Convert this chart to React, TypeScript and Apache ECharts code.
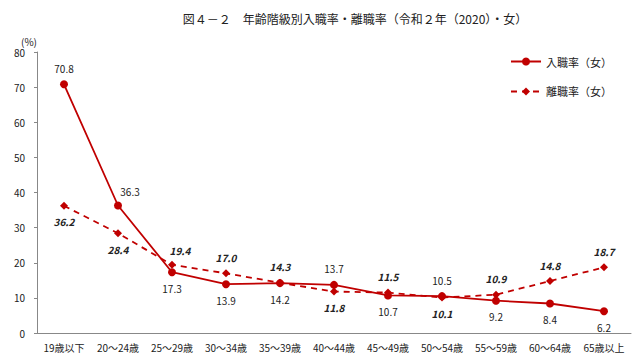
import React, { useEffect, useRef } from "react";
import * as echarts from "echarts";

const categories = ["19歳以下", "20～24歳", "25～29歳", "30～34歳", "35～39歳", "40～44歳", "45～49歳", "50～54歳", "55～59歳", "60～64歳", "65歳以上"];
const entryRate = [70.8, 36.3, 17.3, 13.9, 14.2, 13.7, 10.7, 10.5, 9.2, 8.4, 6.2];
const leaveRate = [36.2, 28.4, 19.4, 17.0, 14.3, 11.8, 11.5, 10.1, 10.9, 14.8, 18.7];
const entryLabelPos = ["top", "top", "bottom", "bottom", "bottom", "top", "bottom", "top", "bottom", "bottom", "bottom"];
const leaveLabelPos = ["bottom", "bottom", "top", "top", "top", "bottom", "top", "bottom", "top", "top", "top"];
const entryLabelOffset = [[0, 0], [12, 2], [0, 0], [0, 0], [0, 0], [0, 0], [0, 0], [0, 0], [0, 0], [0, 0], [0, 0]];
const leaveLabelOffset = [[0, 0], [0, 0], [8, 2], [0, 0], [0, 0], [0, 0], [0, 0], [0, 0], [0, 0], [0, 0], [0, 0]];

const RED = "#C00000";
const FONT = "'Noto Sans CJK JP', 'DejaVu Sans', sans-serif";

export default function App() {
  const ref = useRef<HTMLDivElement>(null);
  useEffect(() => {
    const chart = echarts.init(ref.current!, undefined, { renderer: "svg" });
    chart.setOption({
      animation: false,
      backgroundColor: "#fff",
      textStyle: { fontFamily: FONT },
      title: {
        text: "図４－２　年齢階級別入職率・離職率（令和２年（2020）・女）",
        left: 350,
        textAlign: "center",
        top: 7,
        textStyle: { fontSize: 12, fontWeight: "normal", color: "#222", fontFamily: "'Noto Sans CJK JP', serif" },
      },
      legend: {
        orient: "vertical",
        right: 23,
        top: 51,
        itemGap: 19,
        itemWidth: 30,
        itemHeight: 10,
        textStyle: { fontSize: 11, color: "#222" },
        data: ["入職率（女）", "離職率（女）"],
      },
      grid: { left: 37, right: 9, top: 52, bottom: 27 },
      xAxis: {
        type: "category",
        data: categories,
        boundaryGap: true,
        axisLine: { lineStyle: { color: "#888" } },
        axisTick: { alignWithLabel: true, length: 3, lineStyle: { color: "#888" } },
        axisLabel: { fontSize: 10, color: "#222", margin: 9, interval: 0 },
      },
      yAxis: {
        type: "value",
        min: 0,
        max: 80,
        interval: 10,
        name: "(%)",
        nameLocation: "end",
        nameGap: 6,
        nameTextStyle: { fontSize: 10, color: "#222", align: "right", padding: [0, 0, 0, 0] },
        axisLine: { show: true, lineStyle: { color: "#888" } },
        axisTick: { show: true, length: 3, lineStyle: { color: "#888" } },
        splitLine: { show: false },
        axisLabel: { fontSize: 10, color: "#222", margin: 12 },
      },
      series: [
        {
          name: "入職率（女）",
          type: "line",
          data: entryRate.map((v, i) => ({ value: v, label: { position: entryLabelPos[i], offset: entryLabelOffset[i] } })),
          symbol: "circle",
          symbolSize: 8,
          itemStyle: { color: RED },
          lineStyle: { color: RED, width: 1.8, type: "solid" },
          label: {
            show: true,
            fontSize: 10,
            color: "#222",
            distance: 7,
            formatter: (p: any) => Number(p.value).toFixed(1),
          },
        },
        {
          name: "離職率（女）",
          type: "line",
          data: leaveRate.map((v, i) => ({ value: v, label: { position: leaveLabelPos[i], offset: leaveLabelOffset[i] } })),
          symbol: "diamond",
          symbolSize: 8,
          itemStyle: { color: RED },
          lineStyle: { color: RED, width: 1.8, type: [6, 5] },
          label: {
            show: true,
            fontSize: 10,
            color: "#222",
            fontStyle: "italic",
            fontWeight: "bold",
            distance: 7,
            formatter: (p: any) => Number(p.value).toFixed(1),
          },
        },
      ],
    });
    return () => chart.dispose();
  }, []);
  return <div ref={ref} style={{ width: 640, height: 360, position: "absolute", left: 0, top: 0 }} />;
}
